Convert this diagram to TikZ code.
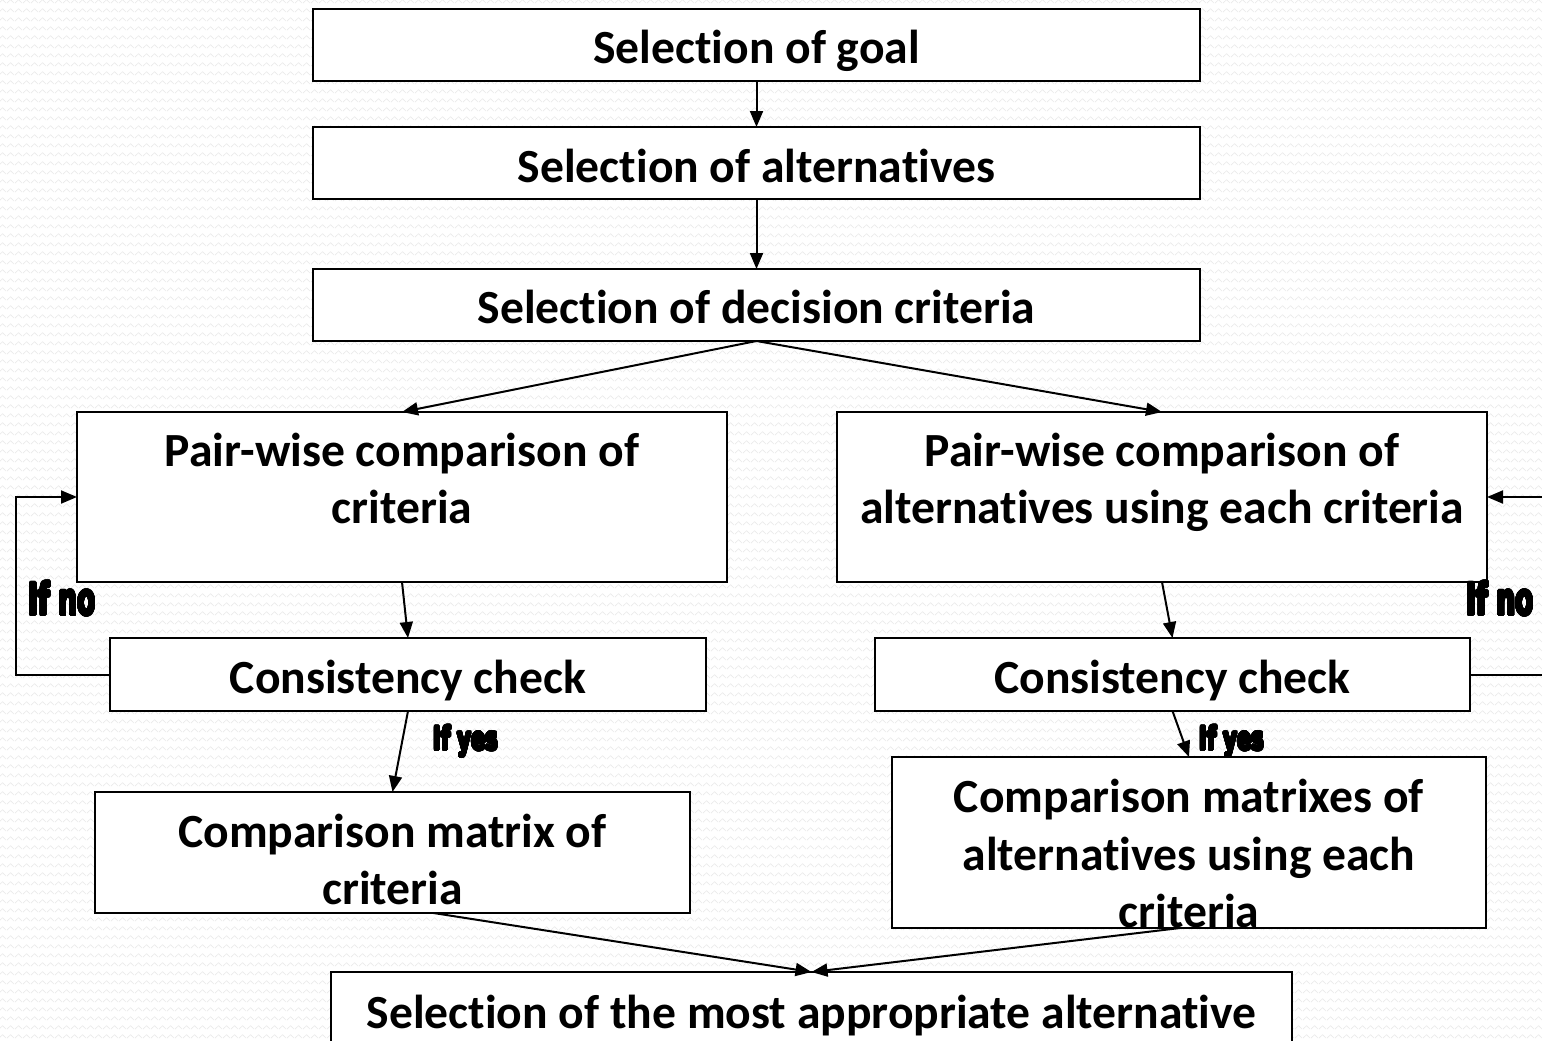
\documentclass[tikz,border=0pt]{standalone}
\usepackage{fontspec}
\setmainfont{Carlito}[Ligatures=CommonOff]
\newfontfamily\ifnofont{DejaVu Sans Bold}[FakeStretch=0.6]
\newfontfamily\ifyesfont{DejaVu Sans Bold}[FakeStretch=0.66]
\usepackage[copies]{contour}
\contourlength{0.55pt}
\contournumber{32}
\usetikzlibrary{arrows.meta,patterns}
\pgfdeclarepatternformonly{bgzigzag}{\pgfpointorigin}{\pgfqpoint{4pt}{4.25pt}}{\pgfqpoint{4pt}{4.25pt}}{%
  \pgfsetlinewidth{0.35pt}%
  \pgfpathmoveto{\pgfqpoint{0pt}{1pt}}%
  \pgfpathlineto{\pgfqpoint{2pt}{2.8pt}}%
  \pgfpathlineto{\pgfqpoint{4pt}{1pt}}%
  \pgfusepath{stroke}}
\begin{document}
\begin{tikzpicture}[x=0.5pt,y=-0.5pt,
  box/.style={draw=black, line width=1pt, fill=white, inner sep=0pt, outer sep=0pt},
  txt/.style={anchor=base, inner sep=0pt, font=\fontsize{23.8pt}{28.5pt}\selectfont\bfseries},
  conn/.style={line width=1pt, -{Triangle[length=8pt,width=6.5pt]}},
  ifno/.style={anchor=base west, inner sep=0pt, font=\fontsize{22pt}{24pt}\ifnofont},
  ifyes/.style={anchor=base west, inner sep=0pt, font=\fontsize{16pt}{18pt}\ifyesfont}]
\useasboundingbox (0,0) rectangle (1542,1040);
\clip (0,0) rectangle (1542,1040);
\fill[white] (0,0) rectangle (1542,1040);
\fill[pattern=bgzigzag, pattern color=black!8] (0,0) rectangle (1542,1040);

% boxes
\node[box, minimum width=443.5pt, minimum height=36pt] (g1) at (756.5,45) {};
\node[box, minimum width=443.5pt, minimum height=36pt] (g2) at (756.5,163) {};
\node[box, minimum width=443.5pt, minimum height=36pt] (g3) at (756.5,305) {};
\node[box, minimum width=325pt, minimum height=85pt] (pl) at (402,497) {};
\node[box, minimum width=325pt, minimum height=85pt] (pr) at (1162,497) {};
\node[box, minimum width=298pt, minimum height=36.5pt] (cl) at (408,674.5) {};
\node[box, minimum width=297.5pt, minimum height=36.5pt] (cr) at (1172.5,674.5) {};
\node[box, minimum width=297.5pt, minimum height=60.5pt] (ml) at (392.5,852.5) {};
\node[box, minimum width=297pt, minimum height=85.5pt] (mr) at (1189,842.5) {};
\node[box, minimum width=480.5pt, minimum height=49pt] (fin) at (811.5,1021) {};

% texts
\node[txt] (tg1) at (756.5,63) {Selection of goal};
\node[txt] (tg2) at (756.5,182) {Selection of alternatives};
\node[txt] (tg3) at (756.5,323) {Selection of decision criteria};
\node[txt] (tpl1) at (402,466) {Pair-wise comparison of};
\node[txt] (tpl2) at (402,523) {criteria};
\node[txt] (tpr1) at (1162,466) {Pair-wise comparison of};
\node[txt] (tpr2) at (1162,523) {alternatives using each criteria};
\node[txt] (tcl) at (408,693) {Consistency check};
\node[txt] (tcr) at (1172.5,693) {Consistency check};
\node[txt] (tml1) at (392.5,847) {Comparison matrix of};
\node[txt] (tml2) at (392.5,904) {criteria};
\node[txt] (tmr1) at (1189,812) {Comparison matrixes of};
\node[txt] (tmr2) at (1189,870) {alternatives using each};
\node[txt] (tmr3) at (1189,927) {criteria};
\node[txt] (tfin) at (811.5,1028) {Selection of the most appropriate alternative};

% labels
\node[ifno] (lno1) at (28,615) {\contour{black}{If no}};
\node[ifno] (lno2) at (1466,615) {\contour{black}{If no}};
\node[ifyes] (lyes1) at (433,750) {\contour{black}{If yes}};
\node[ifyes] (lyes2) at (1199,750) {\contour{black}{If yes}};

% connectors
\draw[conn] (g1.south) -- (g2.north);
\draw[conn] (g2.south) -- (g3.north);
\draw[conn] (g3.south) -- (pl.north);
\draw[conn] (g3.south) -- (pr.north);
\draw[conn] (pl.south) -- (cl.north);
\draw[conn] (pr.south) -- (cr.north);
\draw[conn] (cl.south) -- (ml.north);
\draw[conn] (cr.south) -- (mr.north);
\draw[conn] ([xshift=20.5pt]ml.south) -- (fin.north);
\draw[conn] ([xshift=-4.5pt]mr.south) -- (fin.north);
\draw[conn] (cl.west) -- ++(-94,0) |- (pl.west);
\draw[conn] (cr.east) -- ++(90,0) |- (pr.east);
\end{tikzpicture}
\end{document}
